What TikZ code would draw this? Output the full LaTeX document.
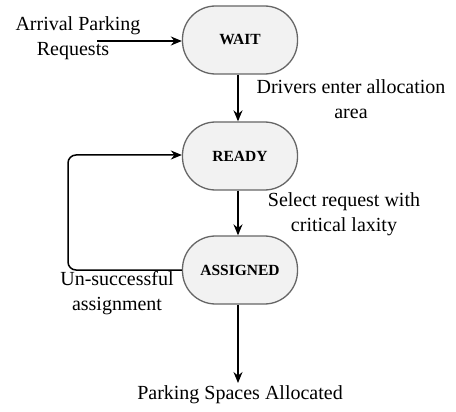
\documentclass[tikz,border=0pt]{standalone}
\usepackage{fontspec}
\setmainfont{Liberation Serif}
\usetikzlibrary{arrows.meta}
\begin{document}
\begin{tikzpicture}[x=1pt,y=-1pt,
  state/.style={draw=black!60,line width=1.3pt,fill=black!5,rounded corners=33pt,minimum width=115pt,minimum height=68pt,font=\fontsize{15.5}{17}\selectfont\bfseries,inner sep=0pt},
  lbl/.style={font=\fontsize{20}{24.5}\selectfont,align=center,inner sep=0pt},
  arr/.style={line width=1.5pt,-{Stealth[length=11pt,width=9pt]}}]
\useasboundingbox (0,0) rectangle (456,412);
\node[state] (wait) at (240,40) {WAIT};
\node[state] (ready) at (240,156) {READY};
\node[state] (assigned) at (240,270) {ASSIGNED};
\node[lbl] (arrival) at (78,38) {Arrival Parking\\\hspace*{-10pt}Requests};
\coordinate (arrstart) at (97,41);
\node[lbl] (drivers) at (351,99) {Drivers enter allocation\\area};
\node[lbl] (select) at (344,214) {Select request with\\critical laxity};
\node[lbl] (unsucc) at (117,293) {Un-successful\\assignment};
\node[lbl] (allocated) at (240,395) {Parking Spaces Allocated};
\coordinate (allocend) at (238,383);
\draw[arr] (arrstart) -- (wait.west |- arrstart);
\draw[arr] (wait.south -| 238,0) -- (ready.north -| 238,0);
\draw[arr] (ready.south -| 238,0) -- (assigned.north -| 238,0);
\draw[arr] (assigned.south -| 238,0) -- (allocend);
\draw[arr,rounded corners=8pt] (assigned.west) -- (68,270) -- (68,155) -- (ready.west |- 0,155);
\end{tikzpicture}
\end{document}
